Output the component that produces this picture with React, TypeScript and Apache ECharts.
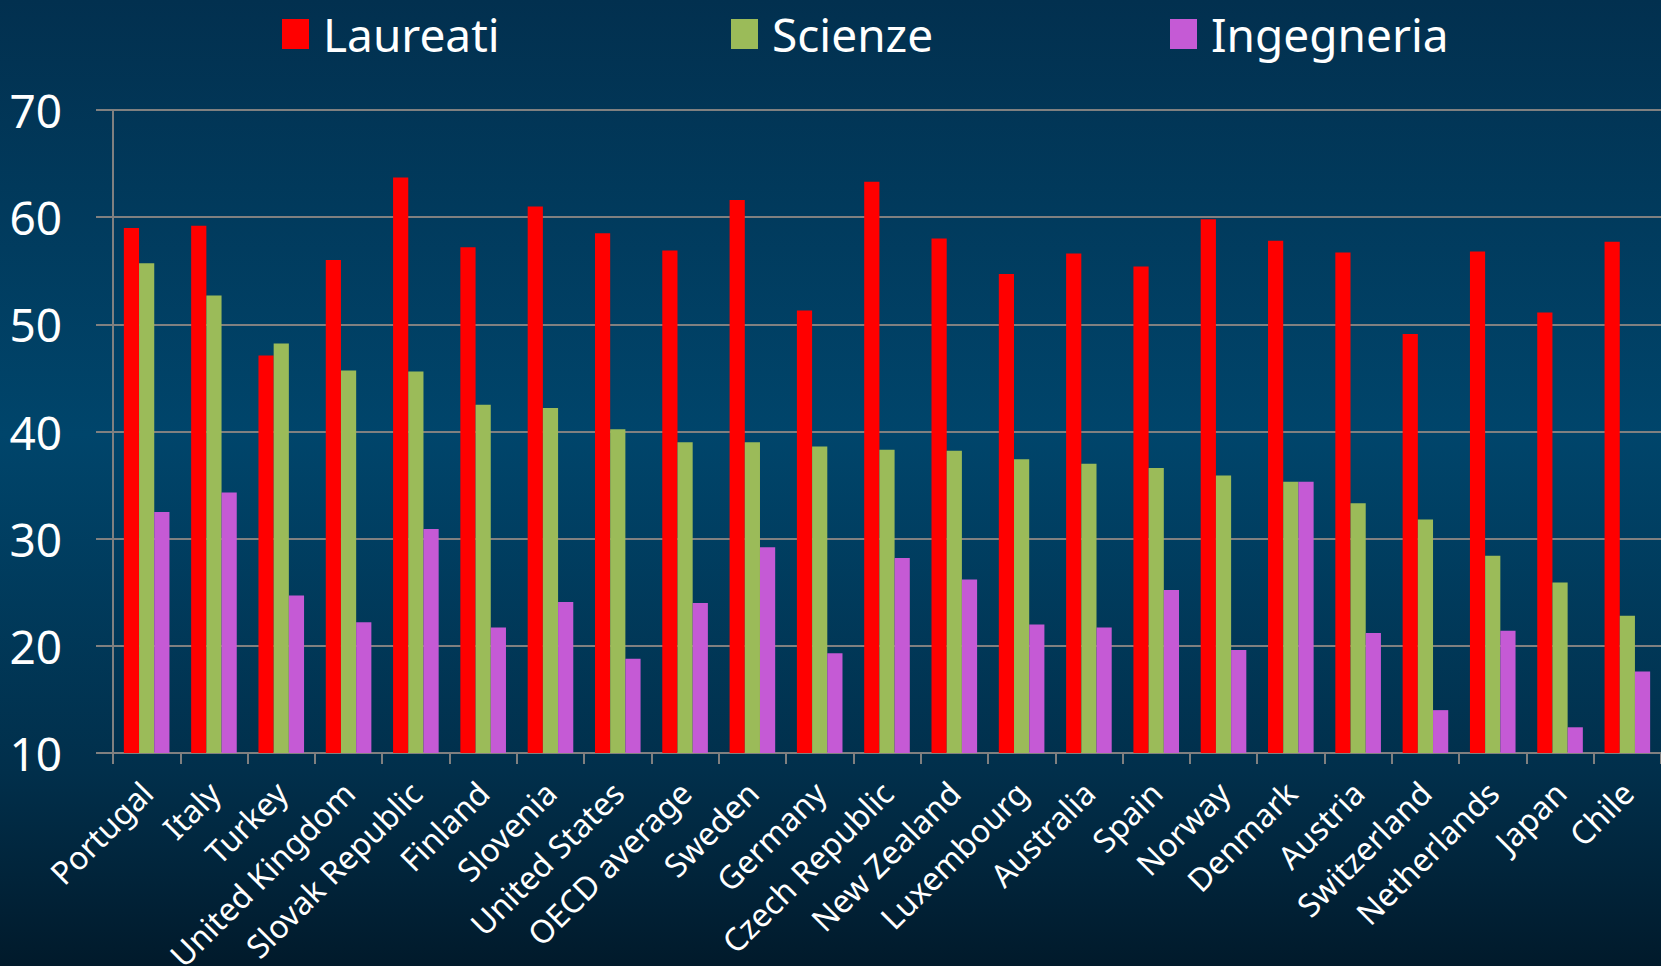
import React, { useEffect, useRef } from "react";
import * as echarts from "echarts";

const categories = [
  "Portugal", "Italy", "Turkey", "United Kingdom", "Slovak Republic", "Finland",
  "Slovenia", "United States", "OECD average", "Sweden", "Germany", "Czech Republic",
  "New Zealand", "Luxembourg", "Australia", "Spain", "Norway", "Denmark", "Austria",
  "Switzerland", "Netherlands", "Japan", "Chile",
];

const laureati = [
  59.0, 59.2, 47.1, 56.0, 63.7, 57.2, 61.0, 58.5, 56.9, 61.6, 51.3, 63.3,
  58.0, 54.7, 56.6, 55.4, 59.8, 57.8, 56.7, 49.1, 56.8, 51.1, 57.7,
];

const scienze = [
  55.7, 52.7, 48.2, 45.7, 45.6, 42.5, 42.2, 40.2, 39.0, 39.0, 38.6, 38.3,
  38.2, 37.4, 37.0, 36.6, 35.9, 35.3, 33.3, 31.8, 28.4, 25.9, 22.8,
];

const ingegneria = [
  32.5, 34.3, 24.7, 22.2, 30.9, 21.7, 24.1, 18.8, 24.0, 29.2, 19.3, 28.2,
  26.2, 22.0, 21.7, 25.2, 19.6, 35.3, 21.2, 14.0, 21.4, 12.4, 17.6,
];

const seriesNames = ["Laureati", "Scienze", "Ingegneria"];
const seriesColors = ["#ff0000", "#9bbb59", "#c55ad5"];
const yTicks = { min: 10, max: 70, interval: 10 };

export default function App() {
  const ref = useRef<HTMLDivElement>(null);

  useEffect(() => {
    if (!ref.current) return;
    const chart = echarts.init(ref.current, undefined, { renderer: "svg" });
    const font = "'Noto Sans', 'Open Sans', sans-serif";
    const dataSets = [laureati, scienze, ingegneria];
    const legendLefts = [277, 726, 1165];

    chart.setOption({
      animation: false,
      backgroundColor: {
        type: "linear",
        x: 0, y: 0, x2: 0, y2: 1,
        colorStops: [
          { offset: 0, color: "#02304f" },
          { offset: 0.45, color: "#00456b" },
          { offset: 0.8, color: "#012f4b" },
          { offset: 1, color: "#011a2b" },
        ],
      },
      legend: seriesNames.map((name, i) => ({
        data: [name],
        left: legendLefts[i],
        top: 6,
        icon: "rect",
        itemWidth: 27,
        itemHeight: 30,
        textStyle: {
          color: "#ffffff",
          fontSize: 46,
          fontFamily: font,
          padding: [0, 0, 0, 9],
        },
      })),
      grid: {
        left: 113,
        right: 0,
        top: 110,
        bottom: 213,
        containLabel: false,
        outerBoundsMode: "none",
      },
      xAxis: {
        type: "category",
        data: categories,
        axisLine: { show: true, lineStyle: { color: "#808080", width: 2 } },
        axisTick: { show: true, length: 11, lineStyle: { color: "#808080", width: 2 } },
        axisLabel: {
          interval: 0,
          rotate: 45,
          color: "#ffffff",
          fontSize: 32,
          fontFamily: font,
          margin: 34,
        },
      },
      yAxis: {
        type: "value",
        min: yTicks.min,
        max: yTicks.max,
        interval: yTicks.interval,
        axisLine: { show: true, lineStyle: { color: "#808080", width: 2 } },
        axisTick: { show: true, length: 17, lineStyle: { color: "#808080", width: 2 } },
        splitLine: { show: true, lineStyle: { color: "#808080", width: 2 } },
        axisLabel: {
          color: "#ffffff",
          fontSize: 46,
          fontFamily: font,
          margin: 51,
        },
      },
      series: seriesNames.map((name, i) => ({
        name,
        type: "bar",
        data: dataSets[i],
        barWidth: 15.2,
        barGap: "0%",
        itemStyle: { color: seriesColors[i] },
      })),
    });

    return () => chart.dispose();
  }, []);

  return (
    <div
      ref={ref}
      style={{ position: "absolute", left: 0, top: 0, width: 1661, height: 966 }}
    />
  );
}
